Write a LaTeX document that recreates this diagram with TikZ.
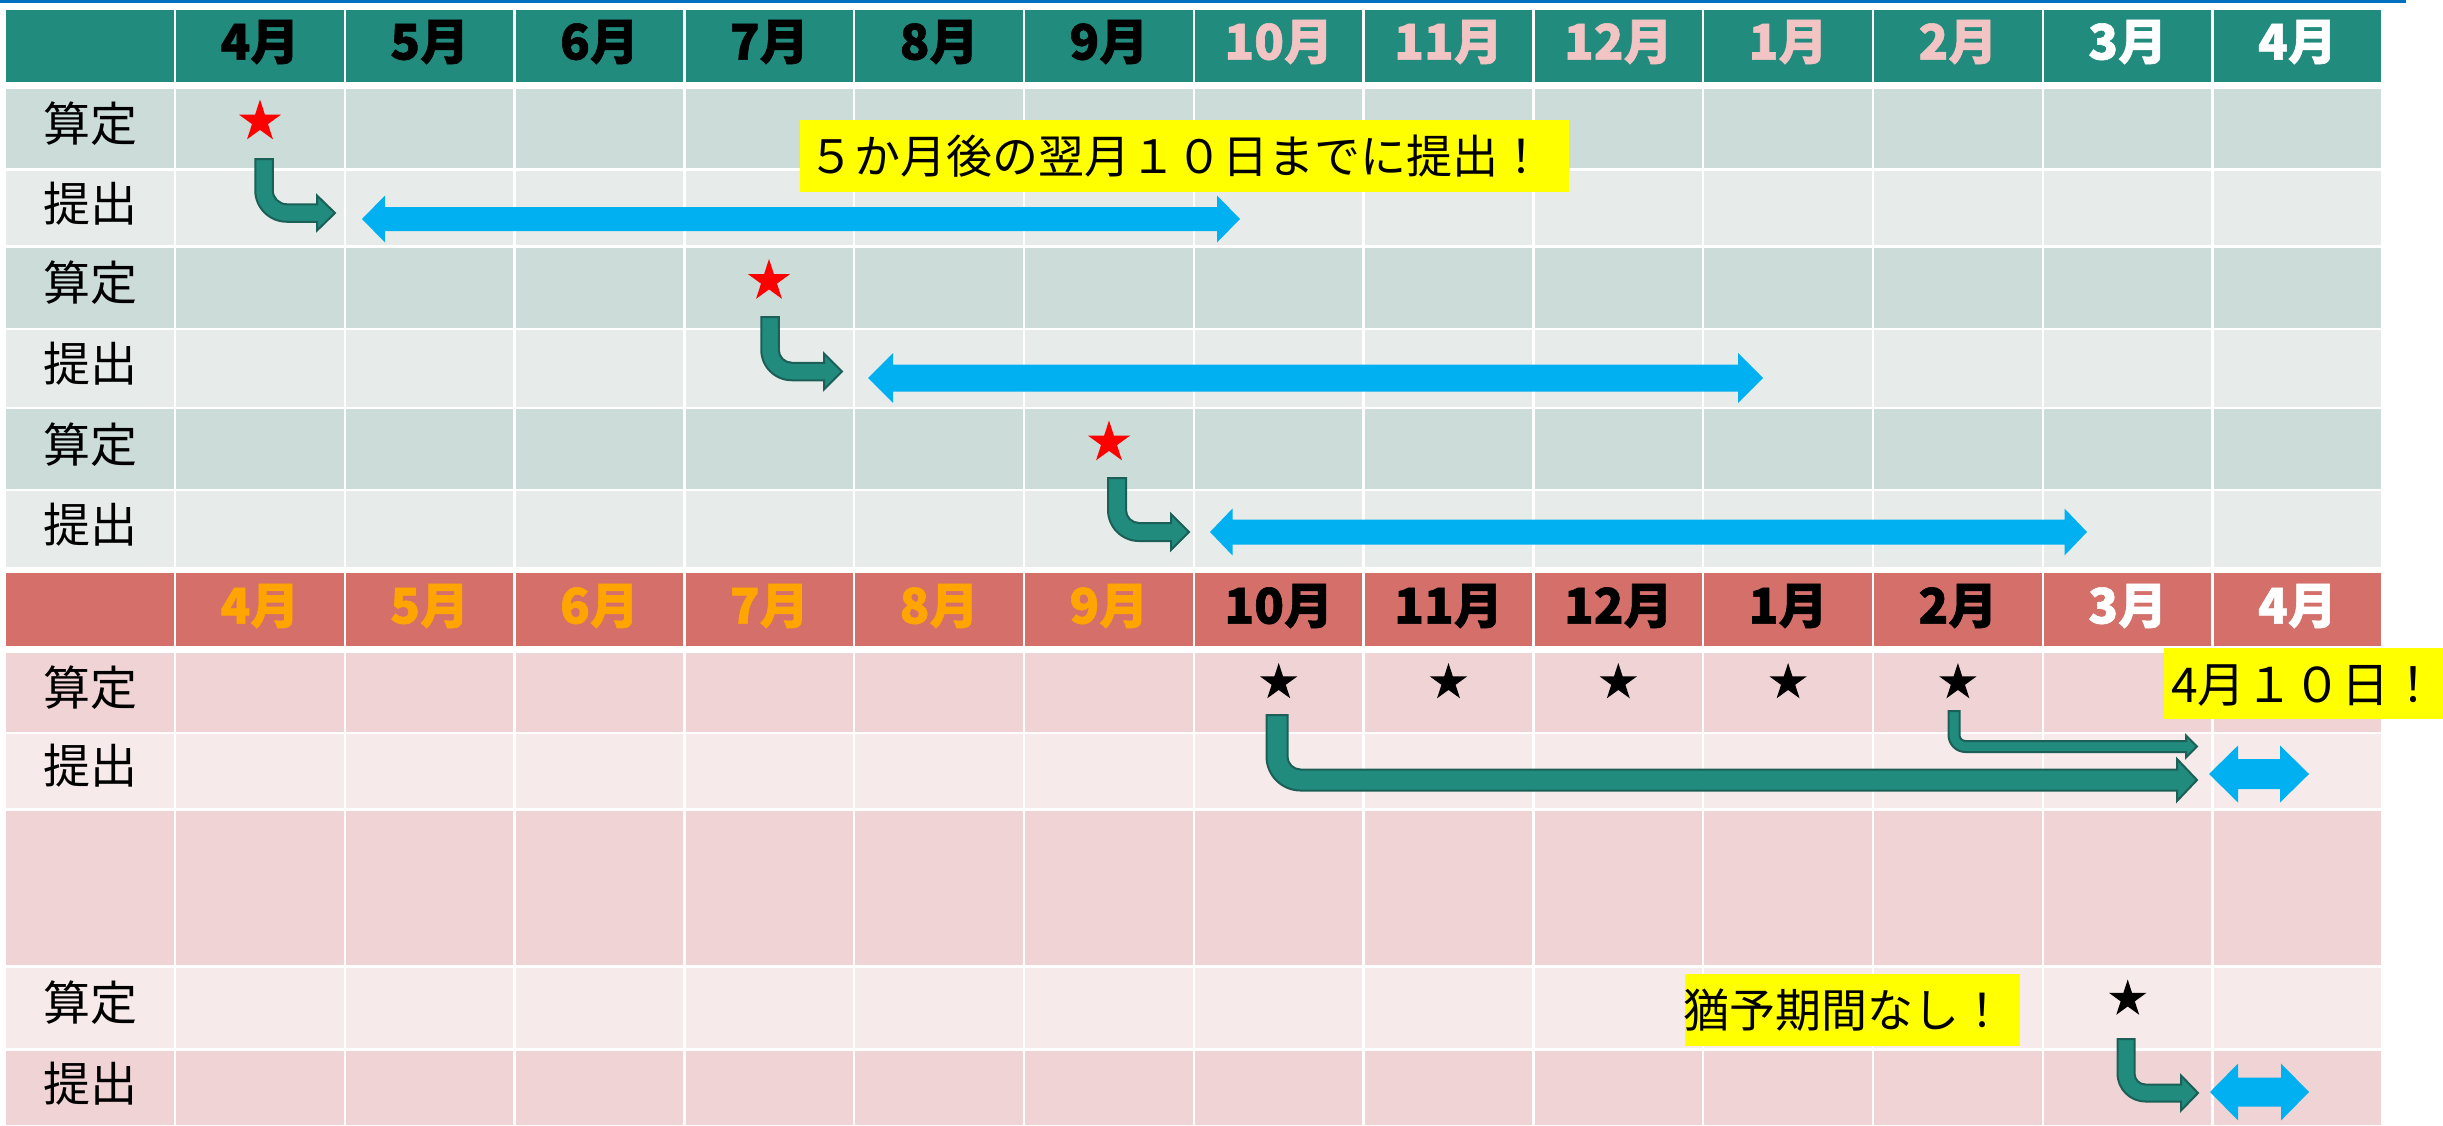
\documentclass[tikz,border=0pt]{standalone}
\usepackage{fontspec}
\usetikzlibrary{shapes.geometric}
\newfontfamily\jp{Noto Sans CJK JP}
\newfontfamily\jphvy{Noto Sans CJK JP}[BoldFeatures={FakeBold=1.2}]
\definecolor{hdrG}{HTML}{218B7D}
\definecolor{rowGa}{HTML}{CCDCD9}
\definecolor{rowGb}{HTML}{E7ECEB}
\definecolor{hdrR}{HTML}{D46F6A}
\definecolor{rowRa}{HTML}{F0D4D5}
\definecolor{rowRb}{HTML}{F6EAEA}
\definecolor{pinkT}{HTML}{F2C4C4}
\definecolor{orangeT}{HTML}{FFA500}
\definecolor{arrB}{HTML}{00B0F0}
\definecolor{arrT}{HTML}{218B7D}
\definecolor{arrTo}{HTML}{1B5F56}
\definecolor{topline}{HTML}{0070C0}
\definecolor{noteY}{HTML}{FFFF00}

\newcommand\cellrow[3]{%
  \fill[#3] (6,#1) rectangle (173.8,#2);
  \foreach \k in {0,...,12}{\fill[#3] ({176.2+169.8*\k},#1) rectangle ({173.8+169.8*(\k+1)},#2);}
}
% double arrow: left tip, right tip, yc, shaft half, head half, head len
\newcommand\dblarr[6]{%
  \fill[arrB] (#1,#3) -- ({#1+#6},{#3-#5}) -- ({#1+#6},{#3-#4}) -- ({#2-#6},{#3-#4}) -- ({#2-#6},{#3-#5}) -- (#2,#3)
   -- ({#2-#6},{#3+#5}) -- ({#2-#6},{#3+#4}) -- ({#1+#6},{#3+#4}) -- ({#1+#6},{#3+#5}) -- cycle;}
% bent arrow: x0, y0, yc, tip, half thick, head len, head half, inner radius
\newcommand\bentarr[8]{%
  \pgfmathsetmacro\myRo{#8+2*#5}
  \filldraw[fill=arrT, draw=arrTo, line width=2, line join=miter]
   ({#1-#5},#2) -- ({#1-#5},{#3+#5-\myRo})
   .. controls ({#1-#5},{#3+#5-0.448*\myRo}) and ({#1-#5+0.448*\myRo},{#3+#5}) .. ({#1-#5+\myRo},{#3+#5})
   -- ({#4-#6},{#3+#5}) -- ({#4-#6},{#3+#7}) -- (#4,#3) -- ({#4-#6},{#3-#7}) -- ({#4-#6},{#3-#5})
   -- ({#1+#5+#8},{#3-#5})
   .. controls ({#1+#5+0.448*#8},{#3-#5}) and ({#1+#5},{#3-#5-0.448*#8}) .. ({#1+#5},{#3-#5-#8})
   -- ({#1+#5},#2) -- cycle;}

\begin{document}
\begin{tikzpicture}[x=1pt,y=-1pt,
  lbl/.style={font=\jp\fontsize{47}{50}\selectfont, text=black, inner sep=0},
  mon/.style={font=\jphvy\bfseries\fontsize{49}{52}\selectfont, inner sep=0},
  note/.style={font=\jp\fontsize{46}{50}\selectfont, text=black, inner sep=0, anchor=west},
  redstar/.style={star, star points=5, star point ratio=2.618, fill=red, draw=none, inner sep=0, minimum size=44},
  blkstar/.style={star, star points=5, star point ratio=2.618, fill=black, draw=none, inner sep=0, minimum size=39}]
\useasboundingbox (0,0) rectangle (2443,1125);
\fill[white] (0,0) rectangle (2443,1125);
\fill[topline] (0,0) rectangle (2406,2.5);

% top section
\cellrow{10}{82}{hdrG}
\cellrow{89}{168.3}{rowGa}
\cellrow{170.7}{245.3}{rowGb}
\cellrow{247.7}{327.8}{rowGa}
\cellrow{330.2}{406.8}{rowGb}
\cellrow{409.2}{488.8}{rowGa}
\cellrow{491.2}{567}{rowGb}
% bottom section
\cellrow{573}{646}{hdrR}
\cellrow{653}{731.8}{rowRa}
\cellrow{734.2}{808.3}{rowRb}
\cellrow{810.7}{965.3}{rowRa}
\cellrow{967.7}{1048.3}{rowRb}
\cellrow{1050.7}{1125}{rowRa}

% month headers
\foreach \m/\c [count=\i from 0] in {4/black,5/black,6/black,7/black,8/black,9/black,10/pinkT,11/pinkT,12/pinkT,1/pinkT,2/pinkT,3/white,4/white}
  \node[mon, text=\c] (gh\i) at ({259.9+169.8*\i},42) {\m{}月};
\foreach \m/\c [count=\i from 0] in {4/orangeT,5/orangeT,6/orangeT,7/orangeT,8/orangeT,9/orangeT,10/black,11/black,12/black,1/black,2/black,3/white,4/white}
  \node[mon, text=\c] (rh\i) at ({259.9+169.8*\i},606) {\m{}月};

% row labels
\node[lbl] (l1) at (90,124) {算定};
\node[lbl] (l2) at (90,203.5) {提出};
\node[lbl] (l3) at (90,283) {算定};
\node[lbl] (l4) at (90,364) {提出};
\node[lbl] (l5) at (90,444.5) {算定};
\node[lbl] (l6) at (90,524.5) {提出};
\node[lbl] (l7) at (90,687.5) {算定};
\node[lbl] (l8) at (90,766) {提出};
\node[lbl] (l10) at (90,1003) {算定};
\node[lbl] (l11) at (90,1084) {提出};

% blue double arrows
\dblarr{362}{1240}{219}{12}{23.5}{23}
\dblarr{868}{1763}{378}{13.5}{25}{25}
\dblarr{1210}{2087}{532}{12.5}{23.5}{22.5}
\dblarr{2209}{2309}{774}{15}{28.5}{29}
\dblarr{2210}{2309}{1092}{14.5}{28.5}{28}

% bent arrows
\bentarr{264}{159}{213}{335}{8.75}{18}{17.5}{14}
\bentarr{770}{317}{371.5}{842}{8.75}{18}{18}{13}
\bentarr{1117}{478}{532}{1189}{9}{18}{18}{13}
\bentarr{1277}{715}{780}{2197}{10.5}{20}{21}{13}
\bentarr{1954}{711}{746.5}{2197}{5.5}{11}{11}{6}
\bentarr{2126}{1039}{1093}{2198}{8.5}{17}{17.5}{11}

% stars
\node[redstar] (s1) at (260,121.5) {};
\node[redstar] (s2) at (769,281) {};
\node[redstar] (s3) at (1109,442.5) {};
\foreach \i in {6,...,10}
  \node[blkstar] (b\i) at ({259.9+169.8*\i},682.5) {};
\node[blkstar] (b11) at (2127.7,999) {};

% notes
\fill[noteY] (800,120) rectangle (1569,192);
\node[note] (n1) at (808,156) {５か月後の翌月１０日までに提出！};
\fill[noteY] (2164,648) rectangle (2443,719);
\node[note, font=\jp\fontsize{48}{50}\selectfont] (n2) at (2171,686) {4月１０日！};
\fill[noteY] (1685,974) rectangle (2020,1046);
\node[note] (n3) at (1683,1010) {猶予期間なし！};
\end{tikzpicture}
\end{document}
